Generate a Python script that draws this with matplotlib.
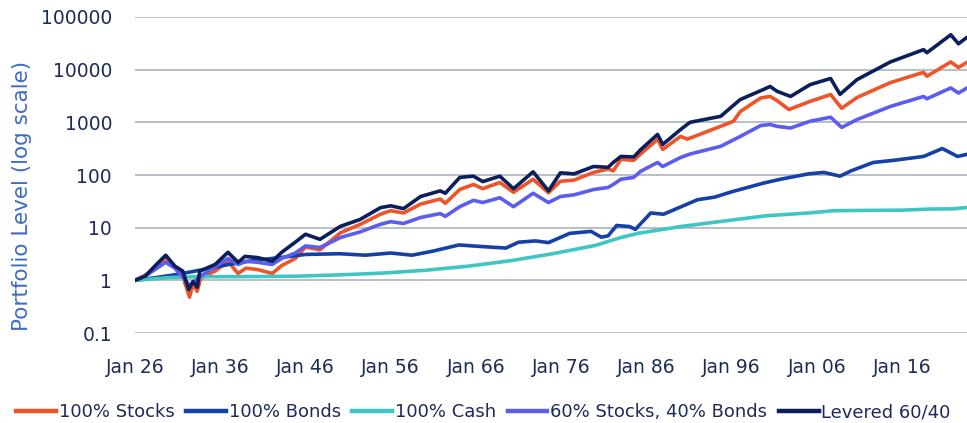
# Growth of $1 since 1926 - portfolio levels on a log scale
import matplotlib.pyplot as plt
import numpy as np

# decimal years and portfolio values
stocks_t = [1926.0, 1927.2, 1928.3, 1929.6, 1930.7, 1931.6, 1932.4, 1932.8, 1933.3, 1933.7,
            1935.4, 1936.9, 1938.1, 1939.0, 1940.4, 1942.1, 1943.2, 1944.8, 1946.0, 1947.7,
            1950.1, 1952.4, 1954.8, 1956.0, 1957.5, 1959.5, 1961.8, 1962.4, 1964.1, 1965.7,
            1966.8, 1968.8, 1970.4, 1972.7, 1974.5, 1975.9, 1977.5, 1979.8, 1981.5, 1982.1,
            1983.0, 1984.5, 1985.3, 1987.3, 1987.9, 1990.0, 1990.8, 1994.7, 1996.2, 1997.0,
            1999.4, 2000.5, 2001.3, 2002.7, 2005.2, 2007.6, 2008.9, 2010.7, 2014.6, 2018.5,
            2018.9, 2021.7, 2022.6, 2023.5]
stocks = [1.0, 1.25, 1.7, 2.7, 1.7, 1.2, 0.48, 0.85, 0.62, 1.1,
          1.5, 2.3, 1.35, 1.7, 1.6, 1.35, 1.9, 2.6, 4.3, 3.8,
          8.0, 11.5, 18, 21, 19, 28, 35, 29, 53, 66,
          55, 72, 47, 83, 46, 76, 80, 112, 130, 120,
          198, 190, 250, 474, 306, 540, 480, 840, 1050, 1600,
          2900, 3100, 2600, 1750, 2500, 3370, 1850, 2960, 5670, 8900,
          7500, 14000, 11000, 13500]

bonds_t = [1926.0, 1928.0, 1931.0, 1934.0, 1937.0, 1940.0, 1943.0, 1946.0, 1950.0, 1953.0,
           1956.0, 1958.5, 1961.0, 1964.0, 1966.5, 1969.5, 1971.0, 1973.0, 1974.5, 1977.0,
           1979.5, 1980.7, 1981.5, 1982.5, 1984.0, 1984.7, 1986.5, 1988.0, 1992.0, 1994.0,
           1996.0, 1999.7, 2001.7, 2005.0, 2006.8, 2008.7, 2010.0, 2012.6, 2015.0, 2018.5,
           2020.7, 2022.5, 2023.5]
bonds = [1.0, 1.1, 1.3, 1.6, 2.0, 2.4, 2.7, 3.1, 3.2, 3.0,
         3.3, 3.0, 3.6, 4.7, 4.4, 4.1, 5.3, 5.6, 5.2, 7.8,
         8.5, 6.6, 7.0, 11, 10.5, 9.3, 19, 18, 34, 38,
         48, 70, 83, 105, 112, 95, 120, 173, 190, 225,
         318, 225, 245]

cash_t = [1926, 1930, 1933, 1940, 1945, 1950, 1955, 1960, 1965, 1970,
          1975, 1980, 1983, 1985, 1990, 1995, 2000, 2005, 2008, 2012,
          2016, 2019, 2022, 2023.5]
cash = [1.0, 1.13, 1.17, 1.18, 1.2, 1.27, 1.37, 1.55, 1.85, 2.35,
        3.2, 4.6, 6.5, 7.8, 10.5, 13.3, 16.8, 19, 21, 21.3,
        21.5, 22.5, 22.8, 24]

mix_t = [1926.0, 1927.2, 1929.6, 1930.7, 1932.4, 1933.7, 1935.4, 1936.9, 1938.1, 1939.0,
         1940.4, 1942.1, 1943.2, 1944.8, 1946.0, 1947.7, 1950.1, 1952.4, 1954.8, 1956.0,
         1957.5, 1959.5, 1961.8, 1962.4, 1964.1, 1965.7, 1966.8, 1968.8, 1970.4, 1972.7,
         1974.5, 1975.9, 1977.5, 1979.8, 1981.5, 1982.1, 1983.0, 1984.5, 1985.3, 1987.3,
         1987.9, 1990.0, 1991.1, 1994.7, 1997.0, 1999.4, 2000.5, 2001.3, 2002.9, 2005.2,
         2007.6, 2008.9, 2010.7, 2014.6, 2018.5, 2018.9, 2021.7, 2022.6, 2023.5]
mix = [1.0, 1.2, 2.2, 1.7, 0.8, 1.2, 1.8, 2.6, 2.0, 2.3,
       2.2, 2.0, 2.6, 3.3, 4.5, 4.2, 6.5, 8.3, 11.6, 13,
       12, 15.6, 18.5, 16.4, 25, 33, 30, 37, 25, 45,
       30, 39, 42, 53, 58, 66, 83, 90, 117, 173,
       145, 215, 250, 350, 540, 870, 910, 840, 780, 1050,
       1250, 800, 1130, 2000, 3100, 2800, 4500, 3600, 4400]

lev_t = [1926.0, 1927.2, 1928.3, 1929.6, 1930.7, 1931.6, 1932.3, 1932.8, 1933.3, 1933.6,
         1935.4, 1936.9, 1938.1, 1938.9, 1940.4, 1942.1, 1943.2, 1944.8, 1946.0, 1947.7,
         1950.1, 1952.4, 1954.8, 1956.0, 1957.5, 1959.5, 1961.8, 1962.4, 1964.1, 1965.7,
         1966.8, 1968.8, 1970.4, 1972.7, 1974.5, 1975.9, 1977.5, 1979.8, 1981.5, 1982.1,
         1983.0, 1984.5, 1985.3, 1987.3, 1987.9, 1990.0, 1991.1, 1994.7, 1997.0, 1999.7,
         2000.5, 2001.3, 2002.9, 2005.2, 2007.6, 2008.7, 2010.7, 2014.6, 2018.5, 2018.9,
         2021.7, 2022.6, 2023.5]
lev = [1.0, 1.2, 1.85, 3.0, 1.85, 1.5, 0.67, 0.95, 0.74, 1.5,
       2.0, 3.4, 2.2, 2.85, 2.7, 2.3, 3.4, 5.3, 7.5, 6.0,
       10.6, 14.3, 24, 26, 23, 39, 50, 45, 90, 95,
       75, 95, 55, 115, 50, 110, 105, 145, 140, 173,
       225, 220, 300, 590, 380, 730, 1000, 1300, 2710, 4190,
       4800, 3900, 3100, 5200, 6800, 3400, 6480, 14000, 24000, 21000,
       46000, 31000, 40000]

tick_years = [1926, 1936, 1946, 1956, 1966, 1976, 1986, 1996, 2006, 2016]
tick_labels = ["Jan 26", "Jan 36", "Jan 46", "Jan 56", "Jan 66",
               "Jan 76", "Jan 86", "Jan 96", "Jan 06", "Jan 16"]
y_ticks = [0.1, 1, 10, 100, 1000, 10000, 100000]
y_labels = ["0.1", "1", "10", "100", "1000", "10000", "100000"]

text_col = "#1e2b58"

fig = plt.figure(figsize=(9.67, 4.23), dpi=100)
ax = fig.add_axes([135/967, 1 - 333/423, 832/967, 316/423])

lw = 2.6
ax.plot(stocks_t, stocks, color="#ef5428", lw=lw, label="100% Stocks")
ax.plot(bonds_t, bonds, color="#1541a6", lw=lw, label="100% Bonds")
ax.plot(cash_t, cash, color="#3fc6c4", lw=lw, label="100% Cash")
ax.plot(mix_t, mix, color="#5b5df0", lw=lw, label="60% Stocks, 40% Bonds")
ax.plot(lev_t, lev, color="#0b1f5c", lw=lw, label="Levered 60/40")

ax.set_yscale("log")
ax.set_ylim(0.1, 100000)
ax.set_xlim(1926, 2023.6)
ax.set_yticks(y_ticks)
ax.set_yticklabels(y_labels)
ax.yaxis.set_minor_locator(plt.NullLocator())
ax.set_xticks(tick_years)
ax.set_xticklabels(tick_labels)
ax.tick_params(length=0, labelsize=13.5, labelcolor=text_col)
ax.tick_params(axis="y", pad=16.5)
ax.tick_params(axis="x", pad=18)
ax.grid(axis="y", color="#b9bec7", lw=1.4)
ax.set_axisbelow(True)
for s in ax.spines.values():
    s.set_visible(False)

fig.text(22/967, 1 - 196/423, "Portfolio Level (log scale)", rotation=90,
         ha="center", va="center", fontsize=15.5, color="#3c6cc4")

leg = fig.legend(loc="center", bbox_to_anchor=(0.5, 1 - 412/423), ncol=5, frameon=False,
                 fontsize=13, handlelength=2.2, handletextpad=0.15, columnspacing=0.65,
                 borderpad=0, labelcolor=text_col)
for h in leg.get_lines():
    h.set_linewidth(3.2)

fig.savefig("out.png", dpi=100)
